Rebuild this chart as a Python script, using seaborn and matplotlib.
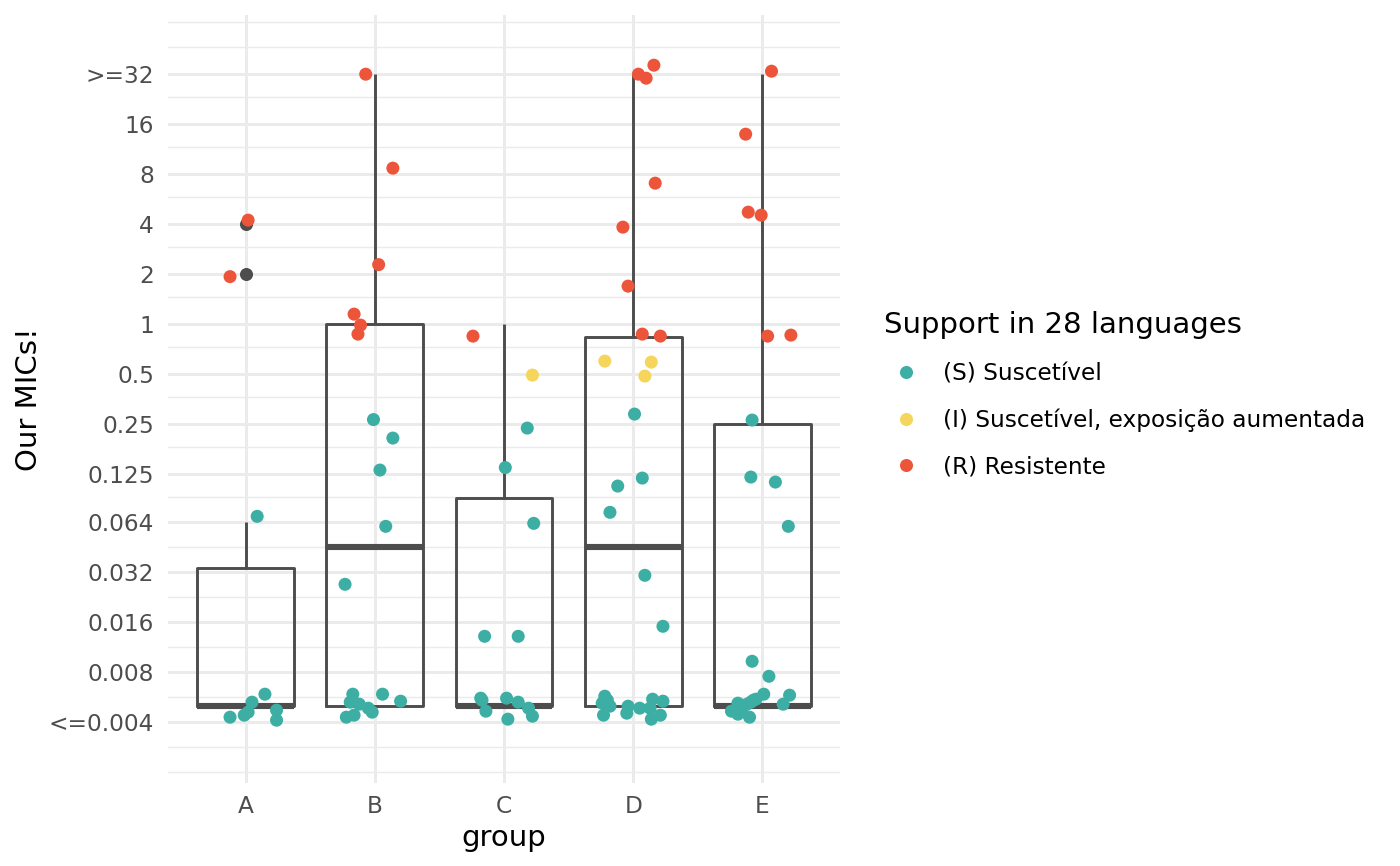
import pandas as pd
import seaborn as sns
import matplotlib.pyplot as plt
from matplotlib.lines import Line2D
from matplotlib.ticker import FixedLocator, NullFormatter

groups = ["A", "B", "C", "D", "E"]
sir_codes = ["S", "I", "R"]
sir_labels = ["(S) Suscetível", "(I) Suscetível, exposição aumentada", "(R) Resistente"]
sir_colors = ["#3CAEA3", "#F6D55C", "#ED553B"]

mic_breaks = [0.004, 0.008, 0.016, 0.032, 0.064, 0.125, 0.25, 0.5, 1, 2, 4, 8, 16, 32]
mic_labels = ["<=0.004", "0.008", "0.016", "0.032", "0.064", "0.125", "0.25",
              "0.5", "1", "2", "4", "8", "16", ">=32"]

# MIC per isolate, its interpretation, and the jitter
# (dx in category widths, dy in log2 steps)
a_mic = [4, 2, 0.064, 0.005, 0.005, 0.005, 0.005, 0.005, 0.005, 0.005]
a_sir = ["R", "R", "S", "S", "S", "S", "S", "S", "S", "S"]
a_dx = [0.02, -0.12, 0.09, -0.12, -0.01, 0.02, 0.05, 0.15, 0.24, 0.24]
a_dy = [0.08, -0.05, 0.12, -0.22, -0.18, -0.12, 0.08, 0.24, -0.08, -0.28]

b_mic = [32, 8, 2, 1, 1, 1, 0.25, 0.25, 0.125, 0.064, 0.032,
         0.005, 0.005, 0.005, 0.005, 0.005, 0.005, 0.005, 0.005, 0.005]
b_sir = ["R", "R", "R", "R", "R", "R", "S", "S", "S", "S", "S",
         "S", "S", "S", "S", "S", "S", "S", "S", "S"]
b_dx = [-0.07, 0.14, 0.03, -0.16, -0.11, -0.13, -0.01, 0.14, 0.04, 0.085, -0.23,
        -0.17, -0.19, -0.12, -0.05, -0.02, -0.22, -0.16, 0.06, 0.2]
b_dy = [0.0, 0.12, 0.19, 0.2, -0.02, -0.2, 0.09, -0.28, 0.08, -0.08, -0.24,
        0.24, 0.08, 0.04, -0.04, -0.12, -0.22, -0.18, 0.24, 0.1]

c_mic = [1, 0.5, 0.25, 0.125, 0.064, 0.016, 0.016,
         0.005, 0.005, 0.005, 0.005, 0.005, 0.005, 0.005, 0.005]
c_sir = ["R", "I", "S", "S", "S", "S", "S",
         "S", "S", "S", "S", "S", "S", "S", "S"]
c_dx = [-0.24, 0.22, 0.18, 0.01, 0.23, -0.15, 0.11,
        -0.17, -0.14, 0.02, 0.11, 0.19, 0.22, 0.03, -0.18]
c_dy = [-0.24, -0.02, -0.08, 0.13, -0.02, -0.28, -0.28,
        0.12, -0.1, 0.16, 0.08, -0.04, -0.2, -0.26, 0.16]

d_mic = [32, 32, 32, 8, 4, 2, 1, 1, 0.5, 0.5, 0.5, 0.25, 0.125, 0.125, 0.064, 0.032, 0.016,
         0.005, 0.005, 0.005, 0.005, 0.005, 0.005, 0.005, 0.005, 0.005, 0.005, 0.005, 0.005, 0.005]
d_sir = ["R", "R", "R", "R", "R", "R", "R", "R", "I", "I", "I", "S", "S", "S", "S", "S", "S",
         "S", "S", "S", "S", "S", "S", "S", "S", "S", "S", "S", "S", "S"]
d_dx = [0.16, 0.04, 0.1, 0.17, -0.08, -0.04, 0.07, 0.21, -0.22, 0.14, 0.09, 0.01, 0.07, -0.12,
        -0.18, 0.09, 0.23,
        -0.22, -0.24, -0.18, -0.23, -0.04, -0.05, 0.05, 0.15, 0.23, 0.13, 0.21, 0.14, -0.2]
d_dy = [0.18, 0.0, -0.08, -0.18, -0.06, -0.24, -0.2, -0.24, 0.26, 0.24, -0.04, 0.2, -0.08, -0.24,
        0.2, -0.06, -0.08,
        0.2, 0.06, 0.0, -0.18, 0.0, -0.14, -0.04, 0.14, 0.1, -0.04, -0.18, -0.26, 0.12]

e_mic = [32, 16, 4, 4, 1, 1, 0.25, 0.125, 0.125, 0.064, 0.008, 0.008,
         0.005, 0.005, 0.005, 0.005, 0.005, 0.005, 0.005, 0.005, 0.005, 0.005, 0.005, 0.005, 0.005]
e_sir = ["R", "R", "R", "R", "R", "R", "S", "S", "S", "S", "S", "S",
         "S", "S", "S", "S", "S", "S", "S", "S", "S", "S", "S", "S", "S"]
e_dx = [0.07, -0.13, -0.11, -0.01, 0.04, 0.22, -0.08, -0.09, 0.1, 0.2, -0.08, 0.05,
        0.01, 0.21, 0.16, -0.05, -0.09, -0.12, -0.19, -0.24, -0.19, -0.1, -0.15, -0.07, -0.16]
e_dy = [0.06, -0.2, 0.24, 0.18, -0.24, -0.22, 0.08, -0.06, -0.16, -0.08, 0.22, -0.08,
        0.24, 0.22, 0.04, 0.14, 0.08, 0.04, 0.06, -0.1, -0.16, -0.22, 0.0, 0.12, -0.06]


def build_frame():
    parts = []
    for g, mic, sir, dx, dy in [("A", a_mic, a_sir, a_dx, a_dy),
                                ("B", b_mic, b_sir, b_dx, b_dy),
                                ("C", c_mic, c_sir, c_dx, c_dy),
                                ("D", d_mic, d_sir, d_dx, d_dy),
                                ("E", e_mic, e_sir, e_dx, e_dy)]:
        parts.append(pd.DataFrame({"group": g, "mic": mic, "sir": sir, "dx": dx, "dy": dy}))
    df = pd.concat(parts, ignore_index=True)
    df["pos"] = df["group"].map({g: i for i, g in enumerate(groups)}).astype(float)
    df["sir"] = df["sir"].map(dict(zip(sir_codes, sir_labels)))
    df["x_jit"] = df["pos"] + df["dx"]
    df["y_jit"] = df["mic"] * 2.0 ** df["dy"]
    return df


df = build_frame()

sns.set_style("white")
plt.rcParams["font.family"] = ["DejaVu Sans"]
plt.rcParams["text.color"] = "black"
plt.rcParams["axes.labelcolor"] = "black"

fig = plt.figure(figsize=(7, 4.33), dpi=200)
ax = fig.add_axes([168 / 1400, 83 / 866, 672 / 1400, 768 / 866])

box_col = "#4D4D4D"
sns.boxplot(data=df, x="pos", y="mic", orient="x", native_scale=True, log_scale=(False, 2),
            width=0.75, fill=False, color=box_col, linewidth=1.05, showcaps=False,
            medianprops=dict(linewidth=2.2, color=box_col),
            flierprops=dict(marker="o", markersize=4.7, markerfacecolor=box_col,
                            markeredgewidth=0),
            ax=ax)
sns.scatterplot(data=df, x="x_jit", y="y_jit", hue="sir", hue_order=sir_labels,
                palette=sir_colors, s=22, linewidth=0, legend=False, ax=ax, zorder=3)

ax.set_xlim(-0.6, 4.6)
ax.set_ylim(0.004 * 2 ** -1.215, 0.004 * 2 ** 14.15)
ax.set_yticks(mic_breaks, mic_labels)
ax.yaxis.set_minor_locator(FixedLocator([0.004 * 2 ** (k / 2) for k in range(-2, 29)
                                         if k < 0 or k > 26 or k % 2 == 1]))
ax.yaxis.set_minor_formatter(NullFormatter())
ax.set_xticks(range(len(groups)), groups)
ax.tick_params(which="both", length=0)
ax.tick_params(axis="x", pad=4.3, labelsize=8.4, labelcolor="#4D4D4D")
ax.tick_params(axis="y", pad=5, labelsize=8.4, labelcolor="#4D4D4D")
ax.grid(True, which="major", color="#EBEBEB", linewidth=1.07)
ax.grid(True, which="minor", axis="y", color="#EBEBEB", linewidth=0.53)
ax.set_axisbelow(True)
sns.despine(ax=ax, left=True, bottom=True)

ax.set_xlabel("group", fontsize=10.5, labelpad=2.0)
ax.set_ylabel("Our MICs!", fontsize=10.5, labelpad=2.0)

handles = [Line2D([], [], marker="o", linestyle="", markersize=4.7,
                  markerfacecolor=c, markeredgewidth=0) for c in sir_colors]
ax.legend(handles, sir_labels, title="Support in 28 languages", loc="upper left",
          bbox_to_anchor=(884 / 1400, 1 - 311 / 866), bbox_transform=fig.transFigure,
          frameon=False, fontsize=8.4, title_fontsize=10.5, alignment="left",
          borderpad=0, borderaxespad=0, labelspacing=1.0, handlelength=1.9,
          handletextpad=0.61)

fig.savefig("out.png", dpi=200)
